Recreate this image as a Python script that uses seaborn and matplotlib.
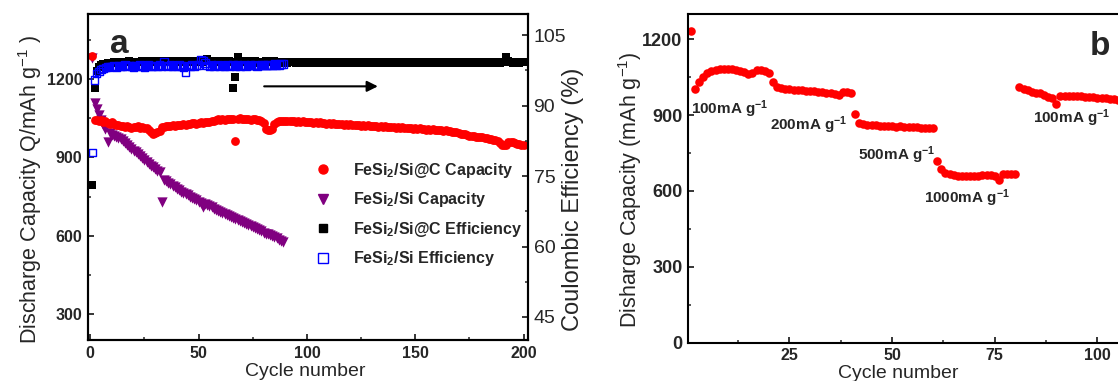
import matplotlib
matplotlib.use('Agg')
import matplotlib.pyplot as plt
import seaborn as sns
from matplotlib.ticker import MultipleLocator
from matplotlib.lines import Line2D

# ---- panel a: cycling of the two anodes ----
cap_sic = [1290, 1042, 1045, 1038, 1043, 1036, 1040, 1031, 1029, 1034,
           1030, 1023, 1026, 1019, 1021, 1016, 1020, 1017, 1013, 1018,
           1015, 1020, 1012, 1017, 1011, 1014, 1005, 996, 990, 992,
           997, 1001, 1016, 1018, 1021, 1022, 1020, 1024, 1022, 1025,
           1026, 1024, 1028, 1026, 1030, 1028, 1031, 1032, 1030, 1033,
           1035, 1032, 1036, 1034, 1037, 1039, 1041, 1043, 1046, 1044,
           1047, 1045, 1048, 1046, 1049, 1046, 962, 1047, 1050, 1048,
           1046, 1049, 1047, 1045, 1048, 1046, 1043, 1045, 1040, 1032,
           1010, 1005, 1004, 1008, 1030, 1036, 1040, 1038, 1041, 1039,
           1040, 1038, 1041, 1039, 1037, 1039, 1036, 1038, 1035, 1037,
           1034, 1036, 1033, 1035, 1032, 1034, 1031, 1033, 1030, 1032,
           1029, 1031, 1028, 1030, 1027, 1029, 1026, 1028, 1025, 1027,
           1024, 1026, 1023, 1025, 1022, 1024, 1021, 1023, 1020, 1022,
           1019, 1021, 1018, 1020, 1017, 1019, 1016, 1018, 1015, 1017,
           1014, 1016, 1013, 1015, 1012, 1014, 1011, 1013, 1010, 1012,
           1009, 1011, 1008, 1010, 1007, 1009, 1006, 1008, 1005, 1007,
           1004, 1006, 1003, 1005, 1002, 1001, 999, 997, 996, 994,
           991, 989, 988, 986, 984, 983, 981, 980, 979, 978,
           977, 975, 974, 972, 970, 968, 966, 963, 955, 948,
           946, 949, 958, 961, 958, 955, 952, 950, 948, 946]

cap_si = [1280, 1107, 1085, 1062, 1043, 1025, 1008, 958, 992, 986,
          983, 980, 976, 970, 963, 955, 948, 940, 932, 926,
          919, 912, 904, 897, 889, 882, 876, 869, 862, 856,
          849, 843, 730, 815, 809, 803, 798, 791, 786, 780,
          774, 769, 764, 759, 755, 750, 745, 740, 736, 731,
          726, 709, 723, 718, 713, 709, 704, 700, 696, 692,
          688, 684, 680, 676, 672, 668, 664, 660, 656, 652,
          649, 645, 641, 637, 633, 629, 625, 621, 617, 612,
          608, 605, 602, 599, 595, 590, 585, 580, 576]

eff_sic = [73.0, 93.7, 97.4, 98.2, 98.6, 98.8, 98.9, 99.0, 99.1, 99.0,
           99.2, 99.1, 99.3, 99.2, 99.1, 99.3, 99.2, 99.4, 99.2, 99.3,
           99.1, 99.3, 99.2, 99.4, 99.3, 99.2, 99.4, 99.3, 99.5, 99.2,
           99.3, 99.4, 99.2, 99.3, 99.5, 99.4, 99.3, 99.2, 99.4, 99.3,
           99.5, 99.3, 99.4, 99.2, 99.3, 99.4, 99.6, 99.3, 99.4, 99.2,
           99.4, 99.3, 99.5, 99.9, 99.4, 99.3, 99.5, 99.2, 99.4, 99.3,
           99.4, 99.3, 99.2, 99.4, 99.3, 93.8, 96.1, 100.4, 99.3, 99.4,
           99.2, 99.3, 99.4, 99.3, 99.2, 99.4, 99.3, 99.1, 99.3, 99.2,
           99.4, 99.3, 99.2, 99.3, 99.4, 99.2, 99.3, 99.1, 99.2, 99.3,
           99.1, 99.2, 99.3, 99.2, 99.0, 99.2, 99.3, 99.1, 99.2, 99.0,
           99.2, 99.1, 99.3, 99.2, 99.0, 99.1, 99.2, 99.3, 99.1, 99.2,
           99.0, 99.2, 99.1, 99.3, 99.2, 99.1, 99.0, 99.2, 99.1, 99.3,
           99.2, 99.0, 99.1, 99.2, 99.3, 99.1, 99.2, 99.0, 99.2, 99.1,
           99.3, 99.2, 99.1, 99.0, 99.2, 99.1, 99.3, 99.2, 99.0, 99.1,
           99.2, 99.1, 99.3, 99.0, 99.2, 99.1, 99.2, 99.3, 99.1, 99.2,
           99.0, 99.2, 99.1, 99.3, 99.2, 99.1, 99.0, 99.2, 99.1, 99.2,
           99.3, 99.1, 99.2, 99.0, 99.2, 99.1, 99.3, 99.2, 99.1, 99.2,
           99.0, 99.1, 99.2, 99.3, 99.1, 99.2, 99.0, 99.1, 99.2, 99.3,
           99.1, 99.2, 99.0, 99.1, 99.3, 99.2, 99.1, 99.2, 99.0, 99.2,
           99.3, 100.3, 99.6, 99.2, 99.1, 99.3, 99.2, 99.1, 99.2, 99.3]

eff_si = [80.0, 95.4, 96.8, 97.3, 97.7, 97.9, 98.1, 98.2, 98.3, 98.3,
          98.4, 98.2, 98.5, 98.3, 98.4, 98.6, 98.3, 98.5, 98.4, 98.2,
          98.5, 98.3, 98.6, 98.4, 98.2, 98.5, 98.7, 98.3, 98.4, 98.5,
          98.3, 98.6, 98.4, 99.4, 98.5, 98.3, 98.6, 98.4, 98.5, 98.3,
          98.6, 98.4, 98.2, 97.2, 98.5, 98.3, 98.6, 98.4, 98.5, 98.7,
          99.8, 99.6, 99.1, 98.5, 98.4, 98.6, 98.3, 98.5, 98.7, 98.4,
          98.5, 98.3, 98.6, 98.4, 98.5, 98.7, 98.4, 98.6, 98.3, 98.5,
          98.6, 98.4, 98.5, 98.7, 98.5, 98.6, 98.4, 98.5, 98.7, 98.6,
          98.5, 98.7, 98.6, 98.5, 98.8, 98.6, 98.7, 98.8, 98.9]

cyc_long = list(range(1, len(cap_sic) + 1))
cyc_short = list(range(1, len(cap_si) + 1))

labels_a = ['FeSi$_2$/Si@C Capacity', 'FeSi$_2$/Si Capacity',
            'FeSi$_2$/Si@C Efficiency', 'FeSi$_2$/Si Efficiency']

# ---- panel b: rate test ----
cap_rate = [1234, 1005, 1030, 1052, 1066, 1075, 1080, 1082, 1083, 1082,
            1081, 1079, 1076, 1070, 1062, 1066, 1078, 1080, 1074, 1068,
            1032, 1012, 1008, 1005, 1003, 1001, 1000, 998, 997, 996,
            994, 992, 991, 989, 987, 984, 979, 990, 993, 986,
            905, 868, 864, 862, 861, 859, 858, 857, 856, 855,
            854, 855, 853, 852, 851, 852, 850, 849, 848, 848,
            718, 686, 672, 665, 661, 659, 658, 657, 658, 659,
            660, 662, 664, 663, 658, 642, 665, 667, 668, 668,
            1010, 1004, 998, 992, 988, 986, 980, 972, 968, 944,
            974, 977, 976, 975, 976, 974, 973, 972, 970, 969,
            967, 966, 964, 963, 961, 960]
cyc_rate = list(range(1, len(cap_rate) + 1))

rate_text = ['100mA g$^{-1}$', '200mA g$^{-1}$', '500mA g$^{-1}$',
             '1000mA g$^{-1}$', '100mA g$^{-1}$']
rate_x = [1.1, 20.3, 41.8, 57.8, 84.3]
rate_y = [922, 859, 740, 573, 886]

RED = '#ff0000'
PURPLE = '#800080'
BLUE = '#0000ff'

sns.set_style('ticks')
plt.rcParams['font.family'] = ['Liberation Sans', 'DejaVu Sans']
plt.rcParams['mathtext.default'] = 'regular'
plt.rcParams['xtick.direction'] = 'in'
plt.rcParams['ytick.direction'] = 'in'
plt.rcParams['axes.linewidth'] = 1.5
plt.rcParams['axes.edgecolor'] = 'black'

fig = plt.figure(figsize=(11.18, 3.81), dpi=100)
ax = fig.add_axes([88 / 1118, 41 / 381, 440 / 1118, 326 / 381])
ax2 = ax.twinx()
bx = fig.add_axes([688 / 1118, 38.5 / 381, 450.5 / 1118, 328.5 / 381])

# panel a
sns.scatterplot(x=cyc_short, y=cap_si, ax=ax, color=PURPLE, marker='v', s=55, linewidth=0)
sns.scatterplot(x=cyc_long, y=cap_sic, ax=ax, color=RED, marker='o', s=40, linewidth=0)
sns.scatterplot(x=cyc_long, y=eff_sic, ax=ax2, color='black', marker='s', s=34, linewidth=0)
sns.scatterplot(x=cyc_short, y=eff_si, ax=ax2, marker='s', s=30, facecolor='none',
                edgecolor=BLUE, linewidth=1.0)

ax.set_xlim(-1, 202)
ax.set_ylim(200, 1450)
ax2.set_ylim(40.1, 109.5)
ax.xaxis.set_major_locator(MultipleLocator(50))
ax.xaxis.set_minor_locator(MultipleLocator(25))
ax.yaxis.set_major_locator(MultipleLocator(300))
ax.yaxis.set_minor_locator(MultipleLocator(150))
ax2.yaxis.set_major_locator(MultipleLocator(15))
ax2.yaxis.set_minor_locator(MultipleLocator(7.5))

for a in (ax, ax2, bx):
    a.tick_params(which='major', length=4, width=1.3)
    a.tick_params(which='minor', length=2.5, width=1.1)
ax.tick_params(which='both', top=False, right=False, labelsize=11.5, pad=4)
ax2.tick_params(which='both', labelsize=14, pad=4)
bx.tick_params(which='both', top=False, right=False, labelsize=11.5, pad=4)
bx.tick_params(axis='y', labelsize=13)

ax.set_xlabel('Cycle number', fontsize=14)
ax.set_ylabel('Discharge Capacity Q/mAh g$^{-1}$ )', fontsize=15.5)
ax2.set_ylabel('Coulombic Efficiency (%)', fontsize=17)
ax.xaxis.set_label_coords(0.493, -0.07)
ax.yaxis.set_label_coords(-0.1, 0.46)
ax2.yaxis.set_label_coords(1.078, 0.432)

ax.text(0.05, 0.88, 'a', transform=ax.transAxes, fontsize=24, fontweight='bold', va='baseline')
ax2.annotate('', xy=(134, 94.1), xytext=(79, 94.1),
             arrowprops=dict(arrowstyle='-|>', color='black', lw=1.5, mutation_scale=16))

handles = [Line2D([], [], ls='none', marker='o', color=RED, ms=6.5),
           Line2D([], [], ls='none', marker='v', color=PURPLE, ms=7.5),
           Line2D([], [], ls='none', marker='s', color='black', ms=5.5),
           Line2D([], [], ls='none', marker='s', mfc='none', mec=BLUE, ms=6.5, mew=1)]
ax2.legend(handles, labels_a, loc='upper left', bbox_to_anchor=(315 / 1118, 1 - 161 / 381),
           bbox_transform=fig.transFigure, frameon=False, prop={'weight': 'bold', 'size': 11.5},
           handlelength=1, handletextpad=1.4, labelspacing=0.65, borderaxespad=0, borderpad=0)

# panel b
sns.scatterplot(x=cyc_rate, y=cap_rate, ax=bx, color=RED, marker='o', s=38, linewidth=0)
bx.set_xlim(0.3, 110)
bx.set_ylim(0, 1300)
bx.xaxis.set_major_locator(MultipleLocator(25))
bx.xaxis.set_minor_locator(MultipleLocator(12.5))
bx.yaxis.set_major_locator(MultipleLocator(300))
bx.yaxis.set_minor_locator(MultipleLocator(150))
bx.set_xlabel('Cycle number', fontsize=14)
bx.set_ylabel('Disharge Capacity (mAh g$^{-1}$)', fontsize=15.5)
bx.xaxis.set_label_coords(0.466, -0.068)
bx.yaxis.set_label_coords(-0.097, 0.465)
for s, x, y in zip(rate_text, rate_x, rate_y):
    bx.text(x, y, s, fontsize=11, fontweight='bold', va='center', ha='left')
bx.text(98.2, 1136, 'b', fontsize=24, fontweight='bold', va='baseline')

plt.setp(ax.get_xticklabels() + ax.get_yticklabels(), fontweight='bold')
plt.setp(bx.get_xticklabels() + bx.get_yticklabels(), fontweight='bold')

fig.savefig('out.png', dpi=100)
